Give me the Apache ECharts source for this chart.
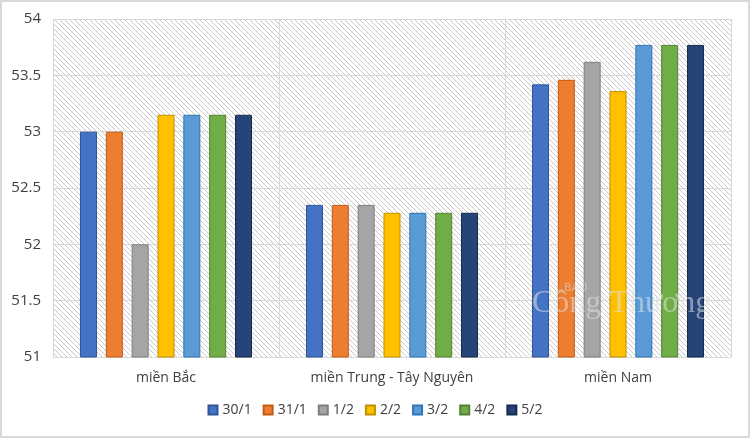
<!DOCTYPE html>
<html><head><meta charset="utf-8">
<script src="https://cdn.jsdelivr.net/npm/echarts@6/dist/echarts.min.js"></script>
<style>html,body{margin:0;padding:0;background:#fff}
#c{width:746px;height:434px;border:2px solid #d9d9d9}</style>
</head><body><div id="c"></div>
<script>
var categories = ['miền Bắc', 'miền Trung - Tây Nguyên', 'miền Nam'];
var seriesNames = ['30/1', '31/1', '1/2', '2/2', '3/2', '4/2', '5/2'];
var v30_1 = [53.00, 52.35, 53.42];
var v31_1 = [53.00, 52.35, 53.46];
var v1_2  = [52.00, 52.35, 53.62];
var v2_2  = [53.15, 52.28, 53.36];
var v3_2  = [53.15, 52.28, 53.77];
var v4_2  = [53.15, 52.28, 53.77];
var v5_2  = [53.15, 52.28, 53.77];
var yTicks = [51, 51.5, 52, 52.5, 53, 53.5, 54];

var values = [v30_1, v31_1, v1_2, v2_2, v3_2, v4_2, v5_2];
var colors = ['#4472C4', '#ED7D31', '#A5A5A5', '#FFC000', '#5B9BD5', '#70AD47', '#264478'];
var borders = ['#2F5597', '#C55A11', '#7F7F7F', '#BF9000', '#2E75B6', '#548235', '#172B4D'];

var pc = document.createElement('canvas');
pc.width = 5; pc.height = 5;
var g = pc.getContext('2d');
g.fillStyle = '#ffffff'; g.fillRect(0, 0, 5, 5);
g.strokeStyle = '#c8c8c8'; g.lineWidth = 1;
g.beginPath();
g.moveTo(-1, -1); g.lineTo(6, 6);
g.moveTo(-1, 4); g.lineTo(1, 6);
g.moveTo(4, -1); g.lineTo(6, 1);
g.stroke();

var chart = echarts.init(document.getElementById('c'), null, {renderer: 'canvas'});
var font = 'Open Sans';
chart.setOption({
  animation: false,
  textStyle: {fontFamily: font},
  grid: {left: 51, right: 17, top: 17, bottom: 79, show: true,
         backgroundColor: {image: pc, repeat: 'repeat'}, borderWidth: 0},
  legend: {bottom: 14, left: 'center', itemWidth: 9, itemHeight: 9, itemGap: 11,
           icon: 'rect', textStyle: {fontSize: 14, color: '#404040', fontFamily: font},
           data: seriesNames},
  xAxis: {type: 'category', data: categories,
          axisLine: {show: true, lineStyle: {color: '#d9d9d9'}},
          axisTick: {show: false},
          splitLine: {show: true, interval: 0, lineStyle: {color: '#d9d9d9'}},
          axisLabel: {fontSize: 14, color: '#404040', margin: 14, interval: 0}},
  yAxis: {type: 'value', min: 51, max: 54, interval: 0.5,
          axisLine: {show: false}, axisTick: {show: false},
          splitLine: {lineStyle: {color: '#d9d9d9'}},
          axisLabel: {fontSize: 15, color: '#404040', margin: 12}},
  series: seriesNames.map(function (n, i) {
    return {name: n, type: 'bar', data: values[i], barWidth: 17, barGap: '52%',
            itemStyle: {color: colors[i], borderColor: borders[i], borderWidth: 1}};
  }),
  graphic: [
    {type: 'text', z: 100, left: 562, top: 281, silent: true,
     style: {text: 'BÁO', fontFamily: 'DejaVu Sans', fontSize: 11, fill: 'rgba(225,225,225,0.55)'}},
    {type: 'text', z: 100, left: 530, top: 286, silent: true,
     style: {text: 'Công Thương', fontFamily: 'Liberation Serif', fontSize: 32, fill: 'rgba(225,225,225,0.55)'}}
  ]
});
</script></body></html>
